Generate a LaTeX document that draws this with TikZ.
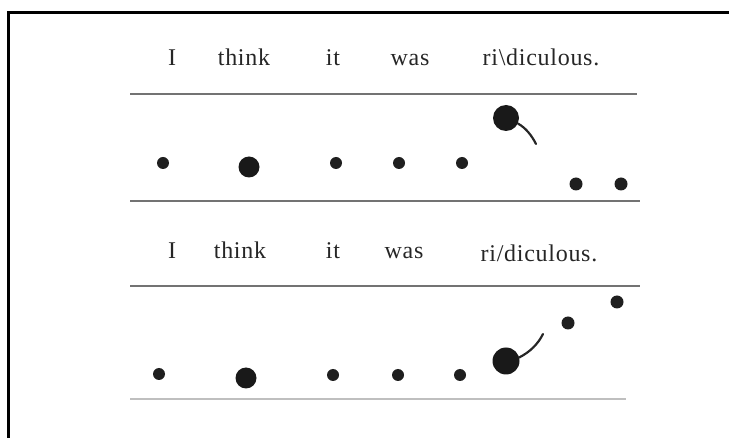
\documentclass[tikz,border=0pt]{standalone}
\usepackage{fontspec}
\setmainfont{Liberation Serif}
\newfontfamily\wordfont[LetterSpace=3]{Liberation Serif}
\begin{document}
\begin{tikzpicture}[x=1pt,y=-1pt,
  word/.style={anchor=base,inner sep=0pt,text=black!85,font=\wordfont\fontsize{24}{26}\selectfont},
  rule/.style={draw=black!55,line width=1.1pt},
  faintrule/.style={draw=black!25,line width=1.1pt},
  sdot/.style={circle,fill=black!88,inner sep=0pt,minimum size=12pt},
  mdot/.style={circle,fill=black!88,inner sep=0pt,minimum size=13pt},
  bdot/.style={circle,fill=black!90,inner sep=0pt,minimum size=21pt},
  tail/.style={draw=black!85,line width=2.2pt,line cap=round}]
\useasboundingbox (0,0) rectangle (729,438);
% frame
\draw[line width=3pt] (729,13) -- (8,13) -- (8,438);
% ---------- panel 1 ----------
\node[word] (a1) at (172,66) {I};
\node[word] (a2) at (244,66) {think};
\node[word] (a3) at (333,66) {it};
\node[word] (a4) at (410,66) {was};
\node[word] (a5) at (541,66) {ri\textbackslash diculous.};
\draw[rule] (130,94) -- (637,94);
\node[sdot] (p1) at (163,163) {};
\node[bdot] (p2) at (249,167) {};
\node[sdot] (p3) at (336,163) {};
\node[sdot] (p4) at (399,163) {};
\node[sdot] (p5) at (462,163) {};
\node[circle,fill=black!90,inner sep=0pt,minimum size=26pt] (p6) at (506,118) {};
\coordinate (t1) at (536,144);
\draw[tail] (p6.-25) .. controls (526,128) and (532,136) .. (t1);
\node[mdot] (p7) at (576,184) {};
\node[mdot] (p8) at (621,184) {};
\draw[rule] (130,201) -- (640,201);
% ---------- panel 2 ----------
\node[word] (b1) at (172,259) {I};
\node[word] (b2) at (240,259) {think};
\node[word] (b3) at (333,259) {it};
\node[word] (b4) at (404,259) {was};
\node[word] (b5) at (539,262) {ri/diculous.};
\draw[rule] (130,286) -- (640,286);
\node[sdot] (q1) at (159,374) {};
\node[bdot] (q2) at (246,378) {};
\node[sdot] (q3) at (333,375) {};
\node[sdot] (q4) at (398,375) {};
\node[sdot] (q5) at (460,375) {};
\node[circle,fill=black!90,inner sep=0pt,minimum size=27pt] (q6) at (506,361) {};
\coordinate (t2) at (543,334);
\draw[tail] (q6.15) .. controls (530,352) and (538,344) .. (t2);
\node[mdot] (q7) at (568,323) {};
\node[mdot] (q8) at (617,302) {};
\draw[faintrule] (130,399) -- (626,399);
\end{tikzpicture}
\end{document}
